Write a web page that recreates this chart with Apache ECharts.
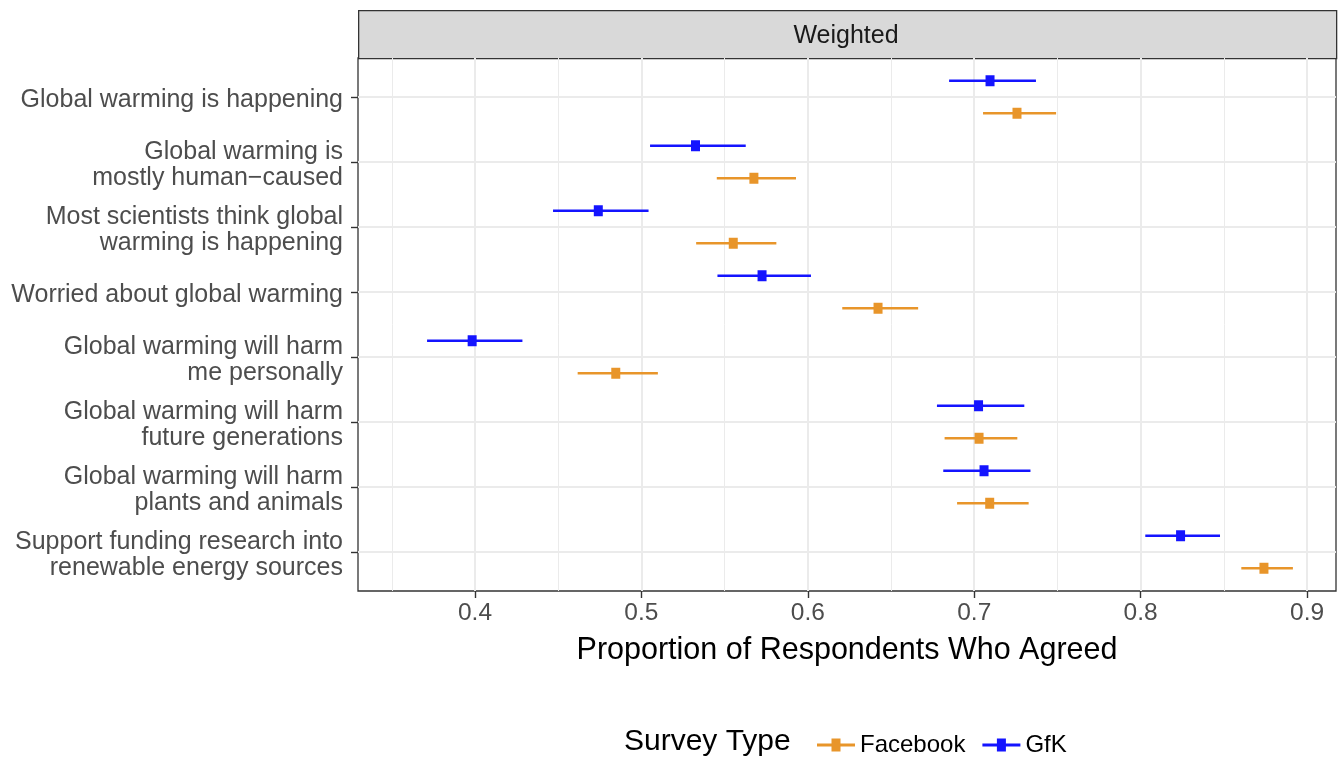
<!DOCTYPE html>
<html><head><meta charset="utf-8">
<script src="https://cdn.jsdelivr.net/npm/echarts@6/dist/echarts.min.js"></script>
<style>html,body{margin:0;padding:0;background:#fff}#c{width:1343px;height:779px}</style>
</head><body><div id="c"></div>
<script>
const categories = [
  'Global warming is happening',
  'Global warming is\nmostly human\u2212caused',
  'Most scientists think global\nwarming is happening',
  'Worried about global warming',
  'Global warming will harm\nme personally',
  'Global warming will harm\nfuture generations',
  'Global warming will harm\nplants and animals',
  'Support funding research into\nrenewable energy sources'
];
const gfkMean = [0.7095, 0.5325, 0.4741, 0.5725, 0.3983, 0.7026, 0.7059, 0.8240];
const gfkLow  = [0.6849, 0.5052, 0.4469, 0.5457, 0.3712, 0.6776, 0.6814, 0.8028];
const gfkHigh = [0.7371, 0.5627, 0.5043, 0.6019, 0.4285, 0.7301, 0.7338, 0.8477];
const fbMean  = [0.7257, 0.5676, 0.5552, 0.6422, 0.4846, 0.7029, 0.7093, 0.8741];
const fbLow   = [0.7053, 0.5453, 0.5329, 0.6207, 0.4617, 0.6822, 0.6897, 0.8605];
const fbHigh  = [0.7492, 0.5929, 0.5811, 0.6663, 0.5099, 0.7259, 0.7327, 0.8915];
const xTicks = [0.4, 0.5, 0.6, 0.7, 0.8, 0.9];
const xMinorTicks = [0.35, 0.45, 0.55, 0.65, 0.75, 0.85];
const yTicks = [1, 2, 3, 4, 5, 6, 7, 8];

const FONT = '"Liberation Sans", Arial, Helvetica, sans-serif';
const FB_COLOR = '#E8952A';
const GFK_COLOR = '#1414FF';

function buildData(mean, low, high) {
  return mean.map((m, i) => [m, low[i], high[i], i + 1]);
}
function makeRender(offset, color) {
  return function (params, api) {
    const y = api.value(3) + offset;
    const pL = api.coord([api.value(1), y]);
    const pH = api.coord([api.value(2), y]);
    const pM = api.coord([api.value(0), y]);
    return {
      type: 'group',
      children: [
        { type: 'line', shape: { x1: pL[0], y1: pL[1], x2: pH[0], y2: pH[1] },
          style: { stroke: color, lineWidth: 2.6 } },
        { type: 'rect', shape: { x: pM[0] - 4.5, y: pM[1] - 5.5, width: 9, height: 11 },
          style: { fill: color } }
      ]
    };
  };
}
const ICON = 'path://M0,5.5L38,5.5L38,8.5L0,8.5Z M14.5,0.5L23.5,0.5L23.5,13.5L14.5,13.5Z';

const chart = echarts.init(document.getElementById('c'), null, { renderer: 'canvas' });
chart.setOption({
  animation: false,
  backgroundColor: '#fff',
  textStyle: { fontFamily: FONT },
  grid: { left: 358, top: 58, width: 978, height: 533, show: true,
          borderColor: '#333333', borderWidth: 1.3, backgroundColor: '#fff' },
  xAxis: [
    { type: 'value', min: 0.3297, max: 0.9174, position: 'bottom',
      axisLine: { show: false },
      axisTick: { show: true, customValues: xTicks, length: 7, lineStyle: { color: '#333', width: 1.4 } },
      axisLabel: { customValues: xTicks, formatter: v => v.toFixed(1), fontSize: 24.5,
                   color: '#4D4D4D', margin: 10, fontFamily: FONT },
      splitLine: { show: true, lineStyle: { color: '#EBEBEB', width: 2 } },
      name: 'Proportion of Respondents Who Agreed', nameLocation: 'middle', nameGap: 44,
      nameTextStyle: { fontSize: 30.5, color: '#000', fontFamily: FONT } },
    { type: 'value', min: 0.3297, max: 0.9174, position: 'bottom',
      axisLine: { show: false },
      axisTick: { show: false, customValues: xMinorTicks },
      axisLabel: { show: false, customValues: xMinorTicks },
      splitLine: { show: true, lineStyle: { color: '#EBEBEB', width: 1 } } }
  ],
  yAxis: {
    type: 'value', min: 0.4, max: 8.6, inverse: true,
    axisLine: { show: false },
    axisTick: { show: true, customValues: yTicks, length: 7, lineStyle: { color: '#333', width: 1.4 } },
    axisLabel: { customValues: yTicks,
                 formatter: v => '{s|}\n' + categories[Math.round(v) - 1],
                 rich: { s: { height: 6, lineHeight: 6, fontSize: 6 } },
                 fontSize: 25, lineHeight: 26.5, color: '#4D4D4D', margin: 15, fontFamily: FONT },
    splitLine: { show: true, lineStyle: { color: '#EBEBEB', width: 2 } }
  },
  legend: {
    data: [{ name: 'Facebook', icon: ICON }, { name: 'GfK', icon: ICON }],
    left: 812, top: 728, itemWidth: 38, itemHeight: 14, itemGap: 17,
    textStyle: { fontSize: 24, color: '#000', fontFamily: FONT }
  },
  graphic: [
    { type: 'rect', left: 358, top: 10, shape: { width: 978, height: 48 },
      style: { fill: '#D9D9D9', stroke: '#333333', lineWidth: 1.3 } },
    { type: 'text', x: 846, y: 36,
      style: { text: 'Weighted', fontSize: 25, fill: '#1A1A1A', fontFamily: FONT,
               textAlign: 'center', textVerticalAlign: 'middle' } },
    { type: 'text', x: 624, y: 742,
      style: { text: 'Survey Type', fontSize: 30, fill: '#000', fontFamily: FONT,
               textAlign: 'left', textVerticalAlign: 'middle' } }
  ],
  series: [
    { name: 'Facebook', type: 'custom', xAxisIndex: 0, yAxisIndex: 0,
      itemStyle: { color: FB_COLOR },
      renderItem: makeRender(0.25, FB_COLOR),
      encode: { x: [0, 1, 2], y: 3 },
      data: buildData(fbMean, fbLow, fbHigh) },
    { name: 'GfK', type: 'custom', xAxisIndex: 0, yAxisIndex: 0,
      itemStyle: { color: GFK_COLOR },
      renderItem: makeRender(-0.25, GFK_COLOR),
      encode: { x: [0, 1, 2], y: 3 },
      data: buildData(gfkMean, gfkLow, gfkHigh) }
  ]
});
</script></body></html>
